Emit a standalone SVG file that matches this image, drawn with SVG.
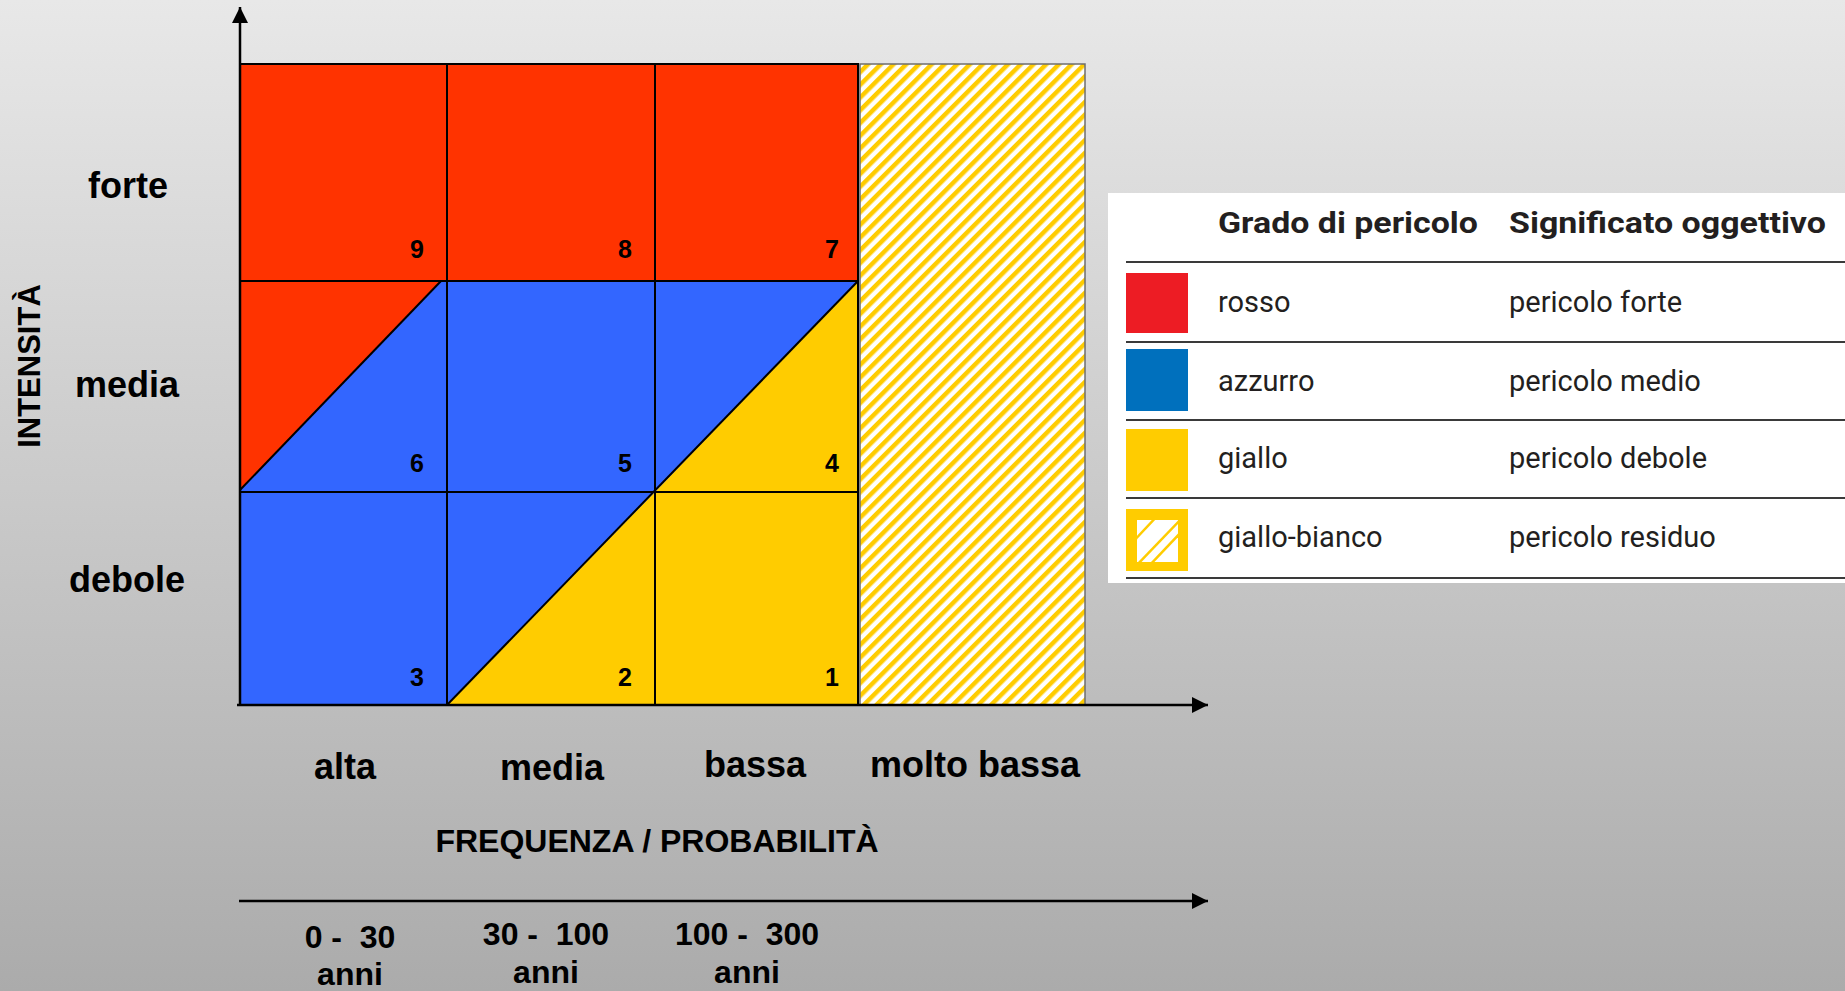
<svg xmlns="http://www.w3.org/2000/svg" width="1845" height="991" viewBox="0 0 1845 991">
  <defs>
    <linearGradient id="bg" x1="0" y1="0" x2="0" y2="1">
      <stop offset="0" stop-color="#E8E8E8"/>
      <stop offset="1" stop-color="#ABABAB"/>
    </linearGradient>
    <pattern id="hatch" patternUnits="userSpaceOnUse" width="9" height="9" patternTransform="rotate(45)">
      <rect width="9" height="9" fill="#FFFFFF"/>
      <rect width="4.5" height="9" fill="#FFCC00"/>
    </pattern>
    <marker id="arrow" markerUnits="userSpaceOnUse" markerWidth="16" markerHeight="16" refX="16" refY="8" orient="auto">
      <path d="M0,0 L16,8 L0,16 Z" fill="#000"/>
    </marker>
    <clipPath id="swclip"><rect x="1137" y="520" width="41" height="42"/></clipPath>
    <style>
      .grid { stroke: #000; stroke-width: 2; fill: none; }
      .axis { stroke: #000; stroke-width: 2.5; fill: none; }
      .lbl { font-family: "Liberation Sans", Arial, sans-serif; font-weight: bold; fill: #000; text-anchor: middle; }
      .big { font-size: 36px; }
      .mid { font-size: 32px; white-space: pre; }
      .num { font-family: "Liberation Sans", Arial, sans-serif; font-weight: bold; font-size: 25px; text-anchor: end; fill: #000; }
      .lg { font-family: Roboto, "Liberation Sans", sans-serif; font-size: 29px; fill: #231F20; }
      .lgh { font-family: Roboto, "Liberation Sans", sans-serif; font-size: 30px; font-weight: bold; fill: #231F20; }
      .sep { stroke: #3A3A3A; stroke-width: 2; }
    </style>
  </defs>

  <rect id="background" x="0" y="0" width="1845" height="991" fill="url(#bg)"/>

  <g id="zone-red">
    <polygon points="240,64 858,64 858,281 441,281 240,490" fill="#FF3300"/>
  </g>
  <g id="zone-blue">
    <polygon points="240,490 441,281 858,281 655,492 447,705 240,705" fill="#3366FF"/>
  </g>
  <g id="zone-yellow">
    <polygon points="447,705 655,492 858,281 858,705" fill="#FFCC00"/>
  </g>
  <g id="zone-residual">
    <rect x="860" y="64" width="225" height="641" fill="url(#hatch)" stroke="#6E6E6E" stroke-width="1.5"/>
  </g>

  <g id="grid-lines">
    <rect class="grid" x="240" y="64" width="618" height="641"/>
    <line class="grid" x1="447" y1="64" x2="447" y2="705"/>
    <line class="grid" x1="655" y1="64" x2="655" y2="705"/>
    <line class="grid" x1="240" y1="281" x2="858" y2="281"/>
    <line class="grid" x1="240" y1="492" x2="858" y2="492"/>
    <line class="grid" x1="240" y1="490" x2="441" y2="281"/>
    <line class="grid" x1="447" y1="705" x2="858" y2="281" stroke-width="3"/>
  </g>

  <g id="cell-numbers">
    <text class="num" x="424" y="258">9</text>
    <text class="num" x="632" y="258">8</text>
    <text class="num" x="839" y="258">7</text>
    <text class="num" x="424" y="472">6</text>
    <text class="num" x="632" y="472">5</text>
    <text class="num" x="839" y="472">4</text>
    <text class="num" x="424" y="686">3</text>
    <text class="num" x="632" y="686">2</text>
    <text class="num" x="839" y="686">1</text>
  </g>

  <g id="connectors">
    <line class="axis" x1="240" y1="706" x2="240" y2="7" marker-end="url(#arrow)"/>
    <line class="axis" x1="237" y1="705" x2="1208" y2="705" marker-end="url(#arrow)"/>
    <line class="axis" x1="239" y1="901" x2="1208" y2="901" marker-end="url(#arrow)"/>
  </g>

  <g id="y-labels">
    <text class="lbl big" x="128" y="198">forte</text>
    <text class="lbl big" x="127" y="397">media</text>
    <text class="lbl big" x="127" y="592">debole</text>
    <text class="lbl" font-size="31" transform="translate(40,366) rotate(-90)">INTENSITÀ</text>
  </g>

  <g id="x-labels">
    <text class="lbl big" x="345" y="779">alta</text>
    <text class="lbl big" x="552" y="780">media</text>
    <text class="lbl big" x="755" y="777">bassa</text>
    <text class="lbl big" x="975" y="777">molto bassa</text>
    <text class="lbl mid" x="657" y="852">FREQUENZA / PROBABILITÀ</text>
  </g>

  <g id="period-labels">
    <text class="lbl mid" x="350" y="948">0 -  30</text>
    <text class="lbl mid" x="350" y="985">anni</text>
    <text class="lbl mid" x="546" y="945">30 -  100</text>
    <text class="lbl mid" x="546" y="983">anni</text>
    <text class="lbl mid" x="747" y="945">100 -  300</text>
    <text class="lbl mid" x="747" y="983">anni</text>
  </g>

  <g id="legend">
    <rect x="1108" y="193" width="737" height="390" fill="#FFFFFF"/>
    <text class="lgh" x="1218" y="233" textLength="260" lengthAdjust="spacingAndGlyphs">Grado di pericolo</text>
    <text class="lgh" x="1509" y="233" textLength="317" lengthAdjust="spacingAndGlyphs">Significato oggettivo</text>
    <line class="sep" x1="1126" y1="262" x2="1845" y2="262"/>
    <g id="legend-rosso">
      <rect x="1126" y="273" width="62" height="60" fill="#ED1C24"/>
      <text class="lg" x="1218" y="312">rosso</text>
      <text class="lg" x="1509" y="312">pericolo forte</text>
    </g>
    <line class="sep" x1="1126" y1="342" x2="1845" y2="342"/>
    <g id="legend-azzurro">
      <rect x="1126" y="349" width="62" height="62" fill="#0070BD"/>
      <text class="lg" x="1218" y="391">azzurro</text>
      <text class="lg" x="1509" y="391">pericolo medio</text>
    </g>
    <line class="sep" x1="1126" y1="420" x2="1845" y2="420"/>
    <g id="legend-giallo">
      <rect x="1126" y="429" width="62" height="62" fill="#FFCC00"/>
      <text class="lg" x="1218" y="468">giallo</text>
      <text class="lg" x="1509" y="468">pericolo debole</text>
    </g>
    <line class="sep" x1="1126" y1="498" x2="1845" y2="498"/>
    <g id="legend-giallo-bianco">
      <rect x="1126" y="509" width="62" height="62" fill="#FFCC00"/>
      <rect x="1137" y="520" width="41" height="42" fill="#FFFFFF"/>
      <g clip-path="url(#swclip)" stroke="#FFCC00" stroke-width="2.5">
        <line x1="1130" y1="545" x2="1160" y2="513"/>
        <line x1="1135" y1="567" x2="1183" y2="517"/>
        <line x1="1148" y1="567" x2="1185" y2="528"/>
      </g>
      <text class="lg" x="1218" y="547">giallo-bianco</text>
      <text class="lg" x="1509" y="547">pericolo residuo</text>
    </g>
    <line class="sep" x1="1126" y1="578" x2="1845" y2="578"/>
  </g>
</svg>
